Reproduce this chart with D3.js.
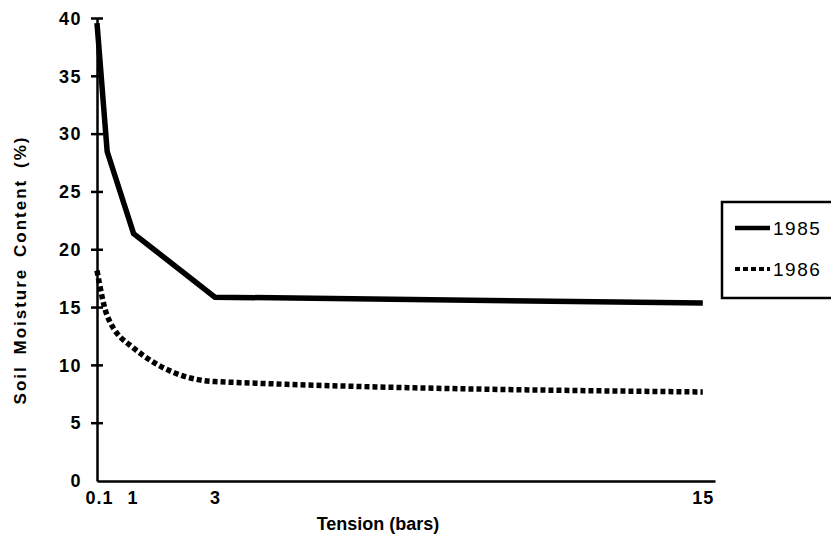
<!DOCTYPE html>
<html><head><meta charset="utf-8">
<script src="https://cdn.jsdelivr.net/npm/d3@7"></script>
<style>body{margin:0;background:#fff}text{font-family:"Liberation Sans",Arial,sans-serif;fill:#000}</style>
</head><body>
<svg id="c" width="831" height="542"></svg>
<script>
const tension = [0.1, 0.35, 1, 3, 15];
const y1985 = [39.6, 28.5, 21.4, 15.9, 15.4];
const y1986 = [18.2, 14.3, 11.5, 8.6, 7.7];
const xTicks = [0.1, 1, 3, 15];
const yTicks = [0, 5, 10, 15, 20, 25, 30, 35, 40];
const seriesNames = ["1985", "1986"];

const svg = d3.select("#c");
const x = d3.scaleLinear().domain([0.1, 15.3]).range([97, 715]);
const y = d3.scaleLinear().domain([0, 40]).range([481, 18.5]);

// y axis
const ya = svg.append("g").attr("transform", "translate(97,0)")
  .call(d3.axisLeft(y).tickValues(yTicks).tickSize(0).tickPadding(15).tickFormat(d3.format("d")));
ya.select(".domain").attr("stroke", "#000").attr("stroke-width", 2.5);
ya.selectAll(".tick text").style("font-size", "18px").style("font-weight", "bold")
  .style("font-family", "Liberation Sans, Arial").attr("letter-spacing", 1.5);
svg.append("g").selectAll("line").data(yTicks.filter(d => d > 0)).join("line")
  .attr("x1", 91).attr("x2", 103).attr("y1", d => y(d)).attr("y2", d => y(d))
  .attr("stroke", "#000").attr("stroke-width", 2.5);

// x axis
const xa = svg.append("g").attr("transform", "translate(0,481)")
  .call(d3.axisBottom(x).tickValues(xTicks).tickSize(0).tickPadding(10).tickFormat(d => String(d)));
xa.select(".domain").attr("stroke", "#000").attr("stroke-width", 2.5);
xa.selectAll(".tick text").style("font-size", "18px").style("font-weight", "bold")
  .style("font-family", "Liberation Sans, Arial").attr("letter-spacing", 1);
xa.selectAll(".tick text").attr("dx", (d) => d === 0.1 ? 2 : (d === 1 ? -1 : 0));

// titles
svg.append("text").attr("x", 378).attr("y", 530).attr("text-anchor", "middle")
  .style("font-size", "18px").style("font-weight", "bold").text("Tension (bars)");
svg.append("text").attr("transform", "translate(26,270) rotate(-90)").attr("text-anchor", "middle")
  .style("font-size", "17px").style("font-weight", "bold").attr("letter-spacing", 2).attr("word-spacing", 4).text("Soil Moisture Content (%)");

// lines
const line = d3.line().x((d, i) => x(tension[i])).y(d => y(d));
svg.append("path").datum(y1985).attr("d", line).attr("fill", "none")
  .attr("stroke", "#000").attr("stroke-width", 5.5).attr("stroke-linejoin", "miter");
const line2 = d3.line().x((d, i) => x(tension[i])).y(d => y(d)).curve(d3.curveMonotoneX);
svg.append("path").datum(y1986).attr("d", line2).attr("fill", "none")
  .attr("stroke", "#000").attr("stroke-width", 5.5).attr("stroke-dasharray", "5,3");

// legend
const lg = svg.append("g");
lg.append("rect").attr("x", 722).attr("y", 202).attr("width", 130).attr("height", 96)
  .attr("fill", "none").attr("stroke", "#000").attr("stroke-width", 2.5);
seriesNames.forEach((n, i) => {
  const yy = 228 + i * 41;
  lg.append("line").attr("x1", 735).attr("x2", 770).attr("y1", yy).attr("y2", yy)
    .attr("stroke", "#000").attr("stroke-width", i === 0 ? 4.5 : 4)
    .attr("stroke-dasharray", i === 0 ? null : "5,3");
  lg.append("text").attr("x", 773).attr("y", yy + 7).style("font-size", "19px").attr("letter-spacing", 1.5).text(n);
});
</script>
</body></html>
